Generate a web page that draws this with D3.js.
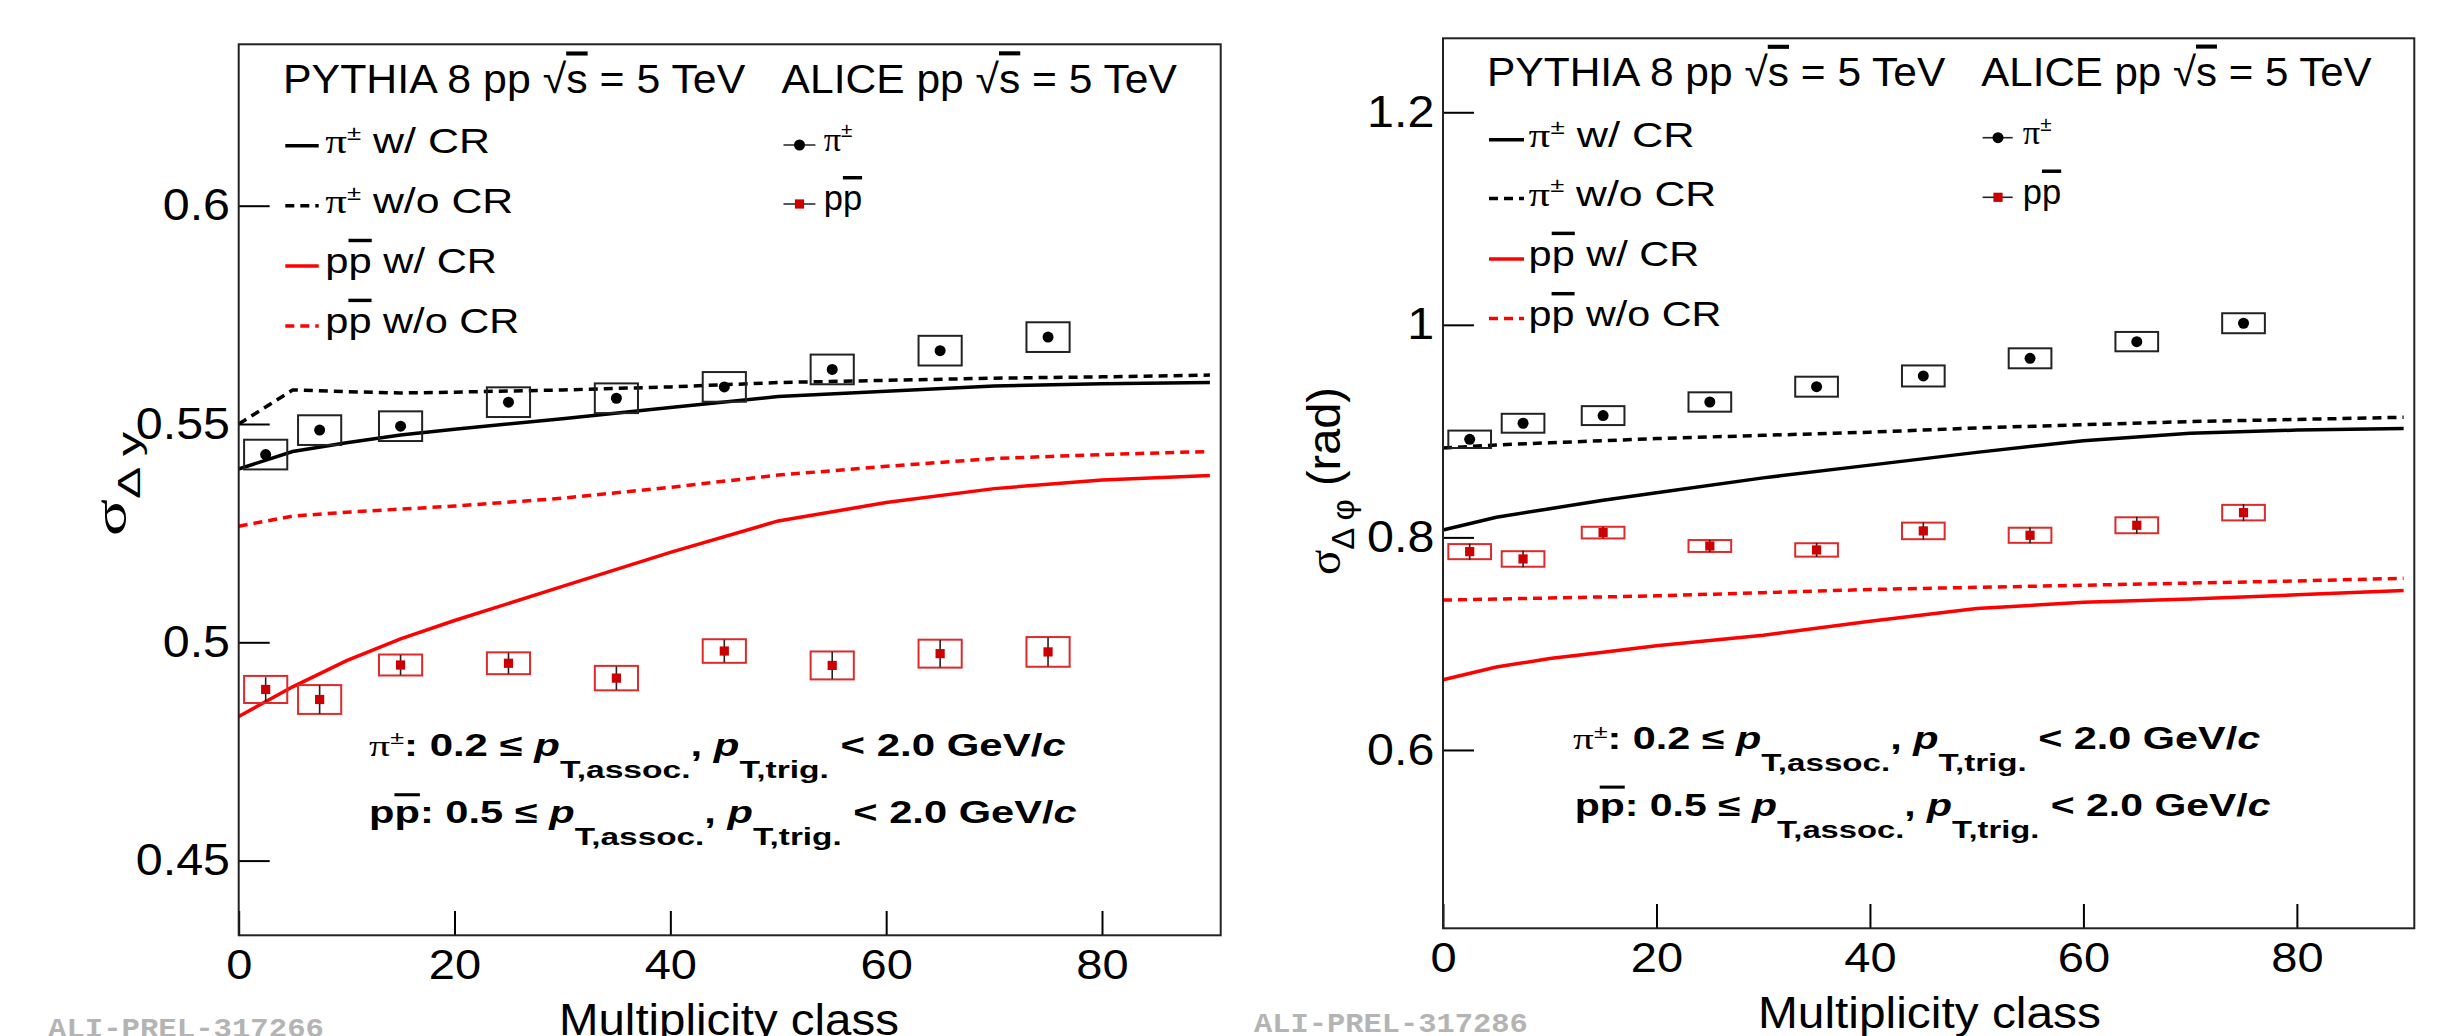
<!DOCTYPE html>
<html>
<head>
<meta charset="utf-8">
<script src="https://cdn.jsdelivr.net/npm/d3@7"></script>
<style>
  body { margin: 0; background: #fff; }
  svg text { font-family: "Liberation Sans", Arial, Helvetica, sans-serif; fill: #000; }
</style>
</head>
<body>
<svg id="chart" width="2450" height="1036"></svg>
<script>
// ---- data ----
const multClass = [2.5, 7.5, 15, 25, 35, 45, 55, 65, 75];   // ALICE multiplicity classes
const boxHalf = 2;                                        // half width of the sys. boxes (mult. units)
const pythiaMult = [0, 5, 10, 15, 20, 30, 40, 50, 60, 70, 80, 90];

// sigma_{Delta y}
const dyPi     = [0.5430, 0.5486, 0.5495, 0.5550, 0.5559, 0.5585, 0.5625, 0.5668, 0.5699];
const dyPiStat = [0.0006, 0.0006, 0.0006, 0.0006, 0.0006, 0.0006, 0.0006, 0.0006, 0.0006];
const dyPiSys  = [0.0034, 0.0034, 0.0034, 0.0034, 0.0034, 0.0034, 0.0034, 0.0034, 0.0034];
const dyPr     = [0.4892, 0.4869, 0.4948, 0.4952, 0.4918, 0.4980, 0.4947, 0.4974, 0.4978];
const dyPrStat = [0.0028, 0.0033, 0.0023, 0.0024, 0.0027, 0.0026, 0.0031, 0.0031, 0.0033];
const dyPrSys  = [0.0031, 0.0033, 0.0024, 0.0025, 0.0028, 0.0027, 0.0032, 0.0032, 0.0034];
const dyPiCR   = [0.5397, 0.5437, 0.5457, 0.5475, 0.5488, 0.5512, 0.5538, 0.5563, 0.5575, 0.5587, 0.5592, 0.5595];
const dyPiNoCR = [0.5500, 0.5578, 0.5574, 0.5571, 0.5573, 0.5578, 0.5585, 0.5595, 0.5600, 0.5605, 0.5608, 0.5612];
const dyPrCR   = [0.4830, 0.4898, 0.4958, 0.5008, 0.5050, 0.5128, 0.5206, 0.5278, 0.5320, 0.5352, 0.5372, 0.5382];
const dyPrNoCR = [0.5266, 0.5289, 0.5298, 0.5305, 0.5312, 0.5330, 0.5355, 0.5383, 0.5403, 0.5421, 0.5430, 0.5437];

// sigma_{Delta phi}
const dphiPi     = [0.8923, 0.9074, 0.9146, 0.9274, 0.9418, 0.9519, 0.9685, 0.9842, 1.0015];
const dphiPiStat = [0.0012, 0.0012, 0.0012, 0.0012, 0.0012, 0.0012, 0.0012, 0.0012, 0.0012];
const dphiPiSys  = [0.0082, 0.0089, 0.0089, 0.0091, 0.0094, 0.0099, 0.0094, 0.0091, 0.0094];
const dphiPr     = [0.7866, 0.7797, 0.8045, 0.7919, 0.7882, 0.8061, 0.8020, 0.8114, 0.8233];
const dphiPrStat = [0.0075, 0.0078, 0.0055, 0.0058, 0.0065, 0.0082, 0.0074, 0.0080, 0.0080];
const dphiPrSys  = [0.0071, 0.0073, 0.0055, 0.0056, 0.0063, 0.0078, 0.0071, 0.0075, 0.0073];
const dphiPiCR   = [0.807, 0.819, 0.827, 0.835, 0.842, 0.856, 0.868, 0.880, 0.891, 0.898, 0.901, 0.9025];
const dphiPiNoCR = [0.884, 0.887, 0.889, 0.891, 0.893, 0.896, 0.899, 0.903, 0.906, 0.909, 0.911, 0.913];
const dphiPrCR   = [0.666, 0.678, 0.686, 0.692, 0.698, 0.708, 0.721, 0.733, 0.739, 0.742, 0.746, 0.750];
const dphiPrNoCR = [0.741, 0.742, 0.743, 0.744, 0.745, 0.748, 0.751, 0.753, 0.755, 0.757, 0.759, 0.7615];

const xTicks = [0, 20, 40, 60, 80];
const dyTicks = [0.45, 0.5, 0.55, 0.6];
const dphiTicks = [0.6, 0.8, 1, 1.2];
const ptMin = ["0.2", "0.5"];
const ptMax = "2.0";
const prelIds = ["ALI-PREL-317266", "ALI-PREL-317286"];

// ---- text helpers ----
const SERIF = "'Liberation Serif', 'DejaVu Serif', serif";
const piRuns = [{ t: "π", serif: true }, { t: "±", size: 0.6, shift: -0.38 }];
const ppRuns = [{ t: "p" }, { t: "p", over: true }];

function addRuns(text, runs, fs) {
  let shift = 0;
  runs.forEach(r => {
    const s = (r.shift || 0) * fs;
    const ts = text.append("tspan").attr("dy", s - shift).text(r.t);
    shift = s;
    if (r.size) ts.style("font-size", (r.size * fs) + "px");
    if (r.bold) ts.style("font-weight", "bold");
    if (r.italic) ts.style("font-style", "italic");
    if (r.serif) ts.style("font-family", SERIF);
    if (r.over) ts.style("text-decoration", "overline");
  });
}

// place text at (x, y) baseline; optionally stretch it to a given width
function placeText(g, x, y, fs, runs, width, rotate) {
  const t = g.append("text").attr("x", 0).attr("y", 0).style("font-size", fs + "px");
  addRuns(t, runs, fs);
  let k = 1;
  if (width) k = width / t.node().getBBox().width;
  if (rotate) {
    t.attr("text-anchor", "middle")
      .attr("transform", `translate(${x},${y}) rotate(-90) scale(${k},1)`);
  } else {
    t.attr("transform", `translate(${x},${y}) scale(${k},1)`);
  }
  return t;
}

function kinRuns(head, pmin) {
  return head.concat([
    { t: ": " + pmin + " ≤ ", bold: true },
    { t: "p", bold: true, italic: true },
    { t: "T,assoc.", bold: true, size: 0.8, shift: 0.72 },
    { t: ", ", bold: true },
    { t: "p", bold: true, italic: true },
    { t: "T,trig.", bold: true, size: 0.8, shift: 0.72 },
    { t: " < " + ptMax + " GeV/", bold: true },
    { t: "c", bold: true, italic: true }
  ]);
}

// ---- panels ----
const panels = [
  {
    frame: { x0: 238.7, x1: 1220.7, y0: 44.3, y1: 935.3 },
    yDomain: [0.43289, 0.63697], yTicks: dyTicks,
    pi: [dyPi, dyPiStat, dyPiSys], pr: [dyPr, dyPrStat, dyPrSys],
    models: [dyPiCR, dyPiNoCR, dyPrCR, dyPrNoCR],
    yTitle: { x: 126, y: 484, len: 106, runs: [{ t: "σ", serif: true }, { t: "Δ y", size: 0.7, shift: 0.3 }] },
    xTitle: { x: 559, y: 1035, w: 340 }, xLabPad: 14,
    titles: [[283, 92.5, 463], [781.6, 92.5, 396]],
    leg: { lx: [285.3, 318.7], tx: 325.3, base: [152.7, 212.7, 273, 333], w: [164.7, 188, 171.7, 194] },
    alice: { mx: 799.5, lx: [783.5, 815.4], my: [145, 204], tx: 823.7, base: [150.5, 210] },
    kin: [[369, 756, 697], [369, 823.3, 708]],
    prel: [48, 1037, 249], prelId: prelIds[0]
  },
  {
    frame: { x0: 1443, x1: 2414.3, y0: 38.3, y1: 928.3 },
    yDomain: [0.4322, 1.2696], yTicks: dphiTicks,
    pi: [dphiPi, dphiPiStat, dphiPiSys], pr: [dphiPr, dphiPrStat, dphiPrSys],
    models: [dphiPiCR, dphiPiNoCR, dphiPrCR, dphiPrNoCR],
    yTitle: { x: 1340, y: 481, len: 188, runs: [{ t: "σ", serif: true }, { t: "Δ φ", size: 0.7, shift: 0.3 }, { t: " (rad)" }] },
    xTitle: { x: 1758, y: 1028.3, w: 343 }, xLabPad: 13.6,
    titles: [[1487, 86, 459], [1981.3, 86, 391]],
    leg: { lx: [1489, 1524], tx: 1528.6, base: [146.7, 205.5, 266, 325.5], w: [166, 187.5, 170.8, 192.9] },
    alice: { mx: 1998, lx: [1982.6, 2012.7], my: [137.7, 197.3], tx: 2022.8, base: [144, 203.5] },
    kin: [[1573, 749.3, 687.3], [1574.7, 816, 695.9]],
    prel: [1254, 1031.7, 247], prelId: prelIds[1]
  }
];

const modelStyle = [
  { color: "#000", dash: null, runs: piRuns.concat([{ t: " w/ CR" }]) },
  { color: "#000", dash: "9,6", runs: piRuns.concat([{ t: " w/o CR" }]) },
  { color: "#ff0000", dash: null, runs: ppRuns.concat([{ t: " w/ CR" }]) },
  { color: "#ff0000", dash: "9,6", runs: ppRuns.concat([{ t: " w/o CR" }]) }
];

const svg = d3.select("#chart");

panels.forEach(p => {
  const f = p.frame;
  const g = svg.append("g");
  const x = d3.scaleLinear().domain([0, 91]).range([f.x0, f.x1]);
  const y = d3.scaleLinear().domain(p.yDomain).range([f.y1, f.y0]);

  // axes (ticks inside the frame, like ROOT)
  const gx = g.append("g")
    .attr("transform", `translate(0,${f.y1})`)
    .call(d3.axisBottom(x).tickValues(xTicks).tickSizeInner(-24.3).tickSizeOuter(0).tickPadding(p.xLabPad));
  gx.select(".domain").remove();
  gx.selectAll("line").attr("stroke", "#000").attr("stroke-width", 2);
  gx.selectAll("text").style("font-size", "42px").attr("transform", "scale(1.12,1)");

  const gy = g.append("g")
    .attr("transform", `translate(${f.x0},0)`)
    .call(d3.axisLeft(y).tickValues(p.yTicks).tickFormat(d => String(d))
      .tickSizeInner(-31).tickSizeOuter(0).tickPadding(8.7));
  gy.select(".domain").remove();
  gy.selectAll("line").attr("stroke", "#000").attr("stroke-width", 2);
  gy.selectAll("text").style("font-size", "44px")
    .attr("x", 0).attr("transform", "translate(-8.7,0) scale(1.1,1)");

  // PYTHIA curves
  const line = d3.line().x(d => x(d[0])).y(d => y(d[1]));
  p.models.forEach((vals, i) => {
    const st = modelStyle[i];
    g.append("path")
      .datum(d3.zip(pythiaMult, vals))
      .attr("d", line)
      .attr("fill", "none")
      .attr("stroke", st.color)
      .attr("stroke-width", 3.5)
      .attr("stroke-dasharray", st.dash);
  });

  // ALICE points: sys boxes, stat bars, markers
  const species = [
    { d: p.pi, box: "#222", marker: "circle" },
    { d: p.pr, box: "#dd2a2a", marker: "square" }
  ];
  species.forEach(s => {
    const [vals, stat, sys] = s.d;
    const pts = multClass.map((m, i) => ({ m: m, v: vals[i], st: stat[i], sy: sys[i] }));
    g.selectAll(null).data(pts).enter().append("rect")
      .attr("x", d => x(d.m - boxHalf))
      .attr("width", d => x(d.m + boxHalf) - x(d.m - boxHalf))
      .attr("y", d => y(d.v + d.sy))
      .attr("height", d => y(d.v - d.sy) - y(d.v + d.sy))
      .attr("fill", "none").attr("stroke", s.box).attr("stroke-width", 2);
    g.selectAll(null).data(pts).enter().append("line")
      .attr("x1", d => x(d.m)).attr("x2", d => x(d.m))
      .attr("y1", d => y(d.v + d.st)).attr("y2", d => y(d.v - d.st))
      .attr("stroke", "#222").attr("stroke-width", 1.6);
    if (s.marker === "circle") {
      g.selectAll(null).data(pts).enter().append("circle")
        .attr("cx", d => x(d.m)).attr("cy", d => y(d.v)).attr("r", 5.5).attr("fill", "#000");
    } else {
      g.selectAll(null).data(pts).enter().append("rect")
        .attr("x", d => x(d.m) - 4.6).attr("y", d => y(d.v) - 4.6)
        .attr("width", 9.2).attr("height", 9.2).attr("fill", "#cc0000");
    }
  });

  // frame
  g.append("rect")
    .attr("x", f.x0).attr("y", f.y0)
    .attr("width", f.x1 - f.x0).attr("height", f.y1 - f.y0)
    .attr("fill", "none").attr("stroke", "#222").attr("stroke-width", 2);

  // header
  placeText(g, p.titles[0][0], p.titles[0][1], 41,
    [{ t: "PYTHIA 8 pp  √" }, { t: "s", over: true }, { t: " = 5 TeV" }], p.titles[0][2]);
  placeText(g, p.titles[1][0], p.titles[1][1], 41,
    [{ t: "ALICE pp  √" }, { t: "s", over: true }, { t: " = 5 TeV" }], p.titles[1][2]);

  // PYTHIA legend
  modelStyle.forEach((st, i) => {
    const ly = p.leg.base[i] - 7;
    g.append("line")
      .attr("x1", p.leg.lx[0]).attr("x2", p.leg.lx[1]).attr("y1", ly).attr("y2", ly)
      .attr("stroke", st.color).attr("stroke-width", 3.5).attr("stroke-dasharray", st.dash);
    placeText(g, p.leg.tx, p.leg.base[i], 34.5, st.runs, p.leg.w[i]);
  });

  // ALICE legend
  [piRuns, ppRuns].forEach((runs, i) => {
    const my = p.alice.my[i];
    g.append("line")
      .attr("x1", p.alice.lx[0]).attr("x2", p.alice.lx[1]).attr("y1", my).attr("y2", my)
      .attr("stroke", "#222").attr("stroke-width", 1.6);
    if (i === 0) {
      g.append("circle").attr("cx", p.alice.mx).attr("cy", my).attr("r", 5.5).attr("fill", "#000");
    } else {
      g.append("rect").attr("x", p.alice.mx - 4.6).attr("y", my - 4.6)
        .attr("width", 9.2).attr("height", 9.2).attr("fill", "#cc0000");
    }
    placeText(g, p.alice.tx, p.alice.base[i], 34.5, runs);
  });

  // kinematic selection
  placeText(g, p.kin[0][0], p.kin[0][1], 30.5, kinRuns(piRuns, ptMin[0]), p.kin[0][2]);
  placeText(g, p.kin[1][0], p.kin[1][1], 30.5,
    kinRuns([{ t: "p", bold: true }, { t: "p", bold: true, over: true }], ptMin[1]), p.kin[1][2]);

  // axis titles
  placeText(g, p.xTitle.x, p.xTitle.y, 44, [{ t: "Multiplicity class" }], p.xTitle.w);
  placeText(g, p.yTitle.x, p.yTitle.y, 46, p.yTitle.runs, p.yTitle.len, true);

  // preliminary id
  placeText(g, p.prel[0], p.prel[1], 27, [{ t: p.prelId }], p.prel[2])
    .style("font-family", "'Liberation Mono', 'DejaVu Sans Mono', monospace")
    .style("font-weight", "bold")
    .style("fill", "#b4b4b4");
});
</script>
</body>
</html>
